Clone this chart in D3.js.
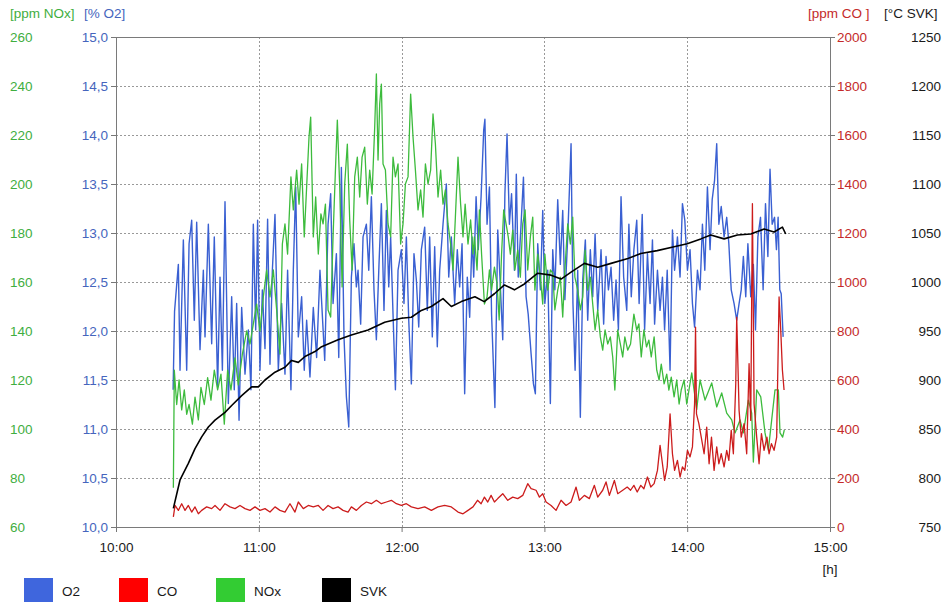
<!DOCTYPE html>
<html>
<head>
<meta charset="utf-8">
<script src="https://cdnjs.cloudflare.com/ajax/libs/d3/7.8.5/d3.min.js"></script>
<style>
  body { margin: 0; background: #fff; }
  svg { display: block; font-family: Arial, "Liberation Sans", sans-serif; }
</style>
</head>
<body>
<svg id="chart"></svg>
<script>
const CHART_SIZE = { width: 943, height: 602 };
const PLOT = { left: 116, right: 830, top: 37, bottom: 527 };
const FONT_SIZE = 13.5;

// tick labels
const timeTicks = ["10:00", "11:00", "12:00", "13:00", "14:00", "15:00"];
const noxTicks = [60, 80, 100, 120, 140, 160, 180, 200, 220, 240, 260];
const o2Ticks = [10, 10.5, 11, 11.5, 12, 12.5, 13, 13.5, 14, 14.5, 15];
const coTicks = [0, 200, 400, 600, 800, 1000, 1200, 1400, 1600, 1800, 2000];
const svkTicks = [750, 800, 850, 900, 950, 1000, 1050, 1100, 1150, 1200, 1250];

const seriesNames = ["O2", "CO", "NOx", "SVK"];
const legendColors = ["#3f66dd", "#ff0000", "#33cc33", "#000000"];

// [minutes after 10:00, value]
const o2Data = [
  [24.0, 11.4], [24.6, 12.2], [26.2, 12.68], [26.9, 11.6], [28.3, 12.93], [29.7, 11.6],
  [30.7, 12.89], [31.8, 13.13], [32.9, 12.11], [33.9, 13.11], [35.3, 11.81], [36.7, 12.62],
  [37.4, 11.94], [38.8, 13.09], [40.2, 11.87], [41.3, 12.96], [42.7, 11.43], [43.7, 12.55],
  [44.7, 11.6], [45.8, 13.32], [47.2, 11.26], [48.6, 12.35], [49.7, 11.4], [50.7, 12.28],
  [51.7, 11.09], [52.8, 12.24], [54.2, 11.56], [55.6, 12.01], [56.7, 11.4], [57.7, 13.09],
  [58.7, 12.01], [59.5, 13.13], [60.5, 11.6], [61.5, 12.42], [62.6, 11.82], [63.7, 13.14],
  [64.7, 11.66], [65.7, 12.62], [66.8, 13.19], [68.2, 11.6], [69.6, 12.28], [71.0, 11.56],
  [72.1, 12.62], [73.5, 11.4], [74.5, 12.62], [75.5, 13.47], [76.6, 11.94], [78.0, 12.35],
  [79.1, 11.6], [80.1, 12.11], [81.5, 11.53], [82.9, 12.24], [84.3, 11.73], [85.7, 12.62],
  [87.7, 11.7], [89.1, 13.09], [90.2, 13.4], [91.2, 12.28], [92.6, 12.79], [93.6, 11.73],
  [94.7, 13.67], [95.8, 11.94], [96.8, 11.33], [97.8, 11.02], [98.9, 12.55], [100.0, 12.89],
  [101.0, 12.45], [101.7, 12.62], [102.8, 12.07], [103.8, 12.96], [105.2, 13.09], [106.2, 12.62],
  [107.3, 13.37], [108.4, 12.42], [109.4, 11.91], [110.5, 12.68], [111.5, 13.3], [112.6, 12.21],
  [113.6, 13.23], [114.6, 12.45], [115.4, 12.96], [116.4, 12.17], [117.4, 11.4], [118.5, 12.62],
  [119.9, 12.83], [121.0, 12.28], [122.0, 12.96], [123.0, 12.11], [124.1, 11.46], [125.2, 12.79],
  [126.2, 12.52], [127.2, 12.04], [128.3, 12.83], [129.7, 13.06], [130.8, 12.21], [131.8, 12.96],
  [132.9, 11.94], [133.9, 12.86], [135.0, 11.84], [136.0, 12.62], [137.4, 13.09], [138.8, 13.5],
  [139.8, 12.55], [140.9, 12.96], [142.3, 12.28], [143.4, 12.83], [144.4, 12.45], [145.4, 12.89],
  [146.5, 11.36], [147.6, 12.55], [148.6, 12.14], [149.6, 12.96], [150.3, 12.55], [151.3, 13.37],
  [152.2, 12.83], [153.4, 13.37], [154.5, 14.05], [155.0, 14.16], [155.9, 13.09], [156.9, 13.47],
  [157.8, 12.17], [159.2, 11.22], [160.4, 13.03], [161.5, 12.45], [162.5, 11.91], [163.4, 13.4],
  [164.3, 14.01], [165.3, 13.09], [166.2, 13.4], [167.4, 12.62], [168.2, 13.6], [169.0, 12.55],
  [170.2, 13.09], [171.2, 13.57], [172.3, 12.35], [173.2, 12.17], [174.4, 11.77], [175.4, 11.46],
  [176.2, 11.36], [177.2, 12.89], [178.3, 12.42], [179.3, 13.23], [180.2, 12.28], [181.4, 12.62],
  [182.5, 11.26], [183.5, 12.83], [184.4, 12.42], [185.6, 13.34], [186.7, 12.68], [187.7, 13.23],
  [188.6, 12.32], [189.8, 12.96], [191.2, 13.91], [192.0, 12.28], [192.9, 11.6], [194.0, 12.62],
  [195.1, 11.12], [196.1, 12.52], [197.2, 12.93], [198.2, 12.11], [199.3, 12.83], [200.3, 12.35],
  [201.3, 12.99], [202.4, 12.21], [203.8, 12.83], [204.9, 12.07], [205.9, 12.76], [206.9, 12.42],
  [208.0, 12.65], [209.1, 12.11], [210.1, 12.52], [211.1, 12.01], [212.2, 13.37], [213.3, 12.55],
  [214.6, 12.21], [215.5, 13.09], [216.5, 12.35], [217.6, 12.83], [218.8, 13.13], [219.8, 12.28],
  [221.1, 13.19], [222.1, 12.01], [223.3, 12.79], [224.4, 12.28], [225.4, 12.93], [226.3, 12.07],
  [227.5, 12.62], [228.6, 12.21], [229.6, 12.55], [230.5, 12.01], [231.6, 12.62], [232.8, 11.6],
  [233.8, 13.03], [234.7, 12.62], [235.9, 12.96], [237.0, 12.55], [238.0, 13.3], [239.0, 13.13],
  [240.1, 12.62], [241.2, 12.83], [242.2, 12.28], [243.1, 12.04], [244.3, 12.62], [245.4, 12.42],
  [246.4, 13.09], [247.4, 12.62], [248.5, 13.47], [249.6, 12.83], [250.5, 13.34], [251.5, 13.54],
  [252.4, 13.91], [253.3, 13.09], [254.3, 13.27], [255.5, 12.96], [256.6, 13.16], [257.5, 12.89],
  [258.5, 12.42], [259.7, 12.28], [260.8, 12.11], [261.8, 12.28], [262.7, 12.42], [263.6, 12.76],
  [264.6, 12.35], [265.5, 12.89], [266.7, 12.35], [267.8, 12.68], [268.7, 12.01], [269.7, 12.96],
  [270.8, 13.16], [271.9, 12.42], [272.9, 13.3], [273.9, 12.76], [274.8, 13.65], [275.7, 13.09],
  [276.7, 13.16], [277.5, 12.83], [278.2, 13.16], [278.9, 12.42], [279.5, 12.38], [280.3, 11.94]
];

const noxData = [
  [24.1, 76], [24.5, 124], [25.5, 110], [26.5, 120], [27.6, 107.8], [28.7, 116], [29.7, 106],
  [30.7, 110], [32.1, 102], [33.2, 113], [34.6, 103.7], [35.7, 117], [37.1, 110], [38.5, 121],
  [39.9, 111.8], [41.3, 124], [42.7, 116], [44.1, 122.4], [45.5, 102], [46.9, 124], [48.3, 116],
  [50.0, 129], [51.4, 118], [53.1, 130.6], [54.9, 140], [56.3, 134.7], [57.7, 142.9], [59.1, 151],
  [60.5, 140], [61.9, 153.9], [63.3, 164.9], [64.7, 153.9], [66.1, 164.9], [67.5, 148.6],
  [68.9, 130.6], [69.9, 175.5], [71.0, 183.7], [72.1, 171.4], [73.5, 202.9], [74.5, 189.4],
  [75.9, 205.7], [76.9, 191.8], [78.0, 208.2], [79.1, 178.4], [80.1, 198.8], [81.1, 219.2],
  [81.8, 227.3], [82.9, 178.4], [83.9, 194.7], [85.0, 171.4], [86.1, 187.8], [87.0, 183.7],
  [88.0, 191.8], [89.1, 148.6], [90.2, 145.7], [91.2, 178.4], [92.2, 205.7], [93.0, 226.1],
  [94.0, 198.8], [95.0, 158], [96.1, 200], [97.2, 216.3], [98.2, 185.3], [99.2, 164.9],
  [100.3, 202.9], [101.4, 211], [102.4, 194.7], [103.4, 211], [104.5, 215], [105.6, 191.8],
  [106.6, 205.7], [107.6, 195.9], [108.7, 223.3], [109.4, 244.9], [110.1, 209.8], [110.8, 232.7],
  [111.5, 240.8], [112.2, 208.2], [113.2, 205.7], [114.3, 183.7], [115.4, 178.4], [116.4, 211],
  [117.4, 202.9], [118.5, 208.2], [119.6, 175.5], [120.6, 183.7], [121.6, 200], [122.7, 202.9],
  [123.8, 236.7], [124.8, 219.2], [125.8, 205.7], [126.9, 189.4], [128.0, 197.6], [129.0, 186.5],
  [130.0, 208.2], [131.1, 200], [132.2, 205.7], [133.2, 228.6], [134.2, 216.3], [135.3, 194.7],
  [136.4, 205.7], [137.4, 191.8], [138.4, 197.6], [139.5, 183.7], [140.6, 175.5], [141.6, 164.9],
  [142.6, 186.5], [143.7, 211], [144.8, 191.8], [145.8, 178.4], [146.7, 191.8], [147.9, 175.5],
  [149.0, 185.3], [150.0, 171.4], [150.6, 178.4], [151.7, 164.9], [152.7, 189.4], [153.6, 171.4],
  [154.8, 151], [155.9, 153.9], [156.9, 164.9], [157.8, 156.7], [159.0, 166.1], [160.1, 159.2],
  [161.0, 144.5], [162.0, 171.4], [162.9, 189.4], [163.9, 183.7], [164.8, 178.4], [165.7, 171.4],
  [166.7, 181.2], [167.6, 164.9], [168.8, 173], [169.9, 162], [170.9, 183.7], [171.9, 189.4],
  [173.0, 164.9], [174.1, 178.4], [175.1, 186.5], [176.0, 156.7], [177.2, 171.4], [178.3, 162],
  [179.3, 151], [180.2, 171.4], [181.4, 156.7], [182.5, 164.9], [183.5, 163.7], [184.4, 148.6],
  [185.6, 156.7], [186.7, 162], [187.7, 145.7], [188.6, 164.9], [189.8, 183.7], [190.9, 175.5],
  [191.9, 186.5], [192.8, 162], [194.0, 156.7], [195.1, 148.6], [196.1, 153.9], [197.1, 173],
  [198.2, 156.7], [199.3, 162], [200.3, 151], [201.3, 140.4], [202.4, 148.6], [203.5, 137.6],
  [204.5, 132.2], [205.5, 140.4], [206.6, 134.7], [207.7, 137.6], [208.7, 129.4], [209.6, 115.9],
  [210.8, 140.4], [211.9, 134.7], [212.9, 129.4], [213.8, 137.6], [215.0, 132.2], [216.2, 134.7],
  [217.6, 146.9], [218.8, 140.4], [219.7, 142.9], [220.7, 129.4], [221.8, 140.4], [222.9, 133.5],
  [223.9, 136.3], [224.9, 129.4], [226.1, 137.6], [227.2, 124], [228.2, 120], [229.1, 126.5],
  [230.3, 118.4], [231.4, 122.4], [232.3, 115.9], [233.3, 121.2], [234.5, 113.1], [235.6, 120],
  [236.6, 110.2], [237.5, 116], [238.7, 120], [239.8, 110.2], [241.9, 122.9], [244.0, 108],
  [245.4, 120], [247.5, 111.8], [250.3, 118.8], [252.4, 109], [254.5, 114.7], [256.6, 106.5],
  [258.7, 103.7], [260.1, 98.4], [262.2, 103.7], [263.6, 98.4], [265.7, 111.8], [267.1, 106.5],
  [267.8, 86.5], [269.2, 116], [270.9, 113.1], [272.7, 98.4], [274.1, 91.4], [275.5, 103.7],
  [276.9, 116], [278.3, 116], [279.0, 98.4], [280.1, 96.7], [280.8, 99.6]
];

const coData = [
  [24.1, 41], [24.8, 88], [26.2, 68], [27.6, 95], [29.0, 68], [30.4, 88], [31.8, 61], [33.2, 82],
  [34.6, 54], [36.0, 68], [38.1, 82], [40.2, 75], [41.6, 88], [43.7, 68], [45.8, 95], [47.9, 82],
  [50.0, 75], [52.1, 88], [54.2, 75], [56.3, 68], [58.4, 82], [60.5, 68], [62.6, 75], [64.7, 61],
  [66.8, 82], [68.9, 68], [71.0, 61], [73.1, 95], [75.2, 61], [76.6, 102], [78.7, 75], [80.8, 88],
  [82.9, 82], [85.0, 88], [87.0, 68], [89.1, 88], [91.2, 75], [93.3, 82], [95.4, 68], [97.5, 61],
  [98.9, 82], [101.0, 68], [103.1, 88], [105.2, 102], [107.3, 95], [109.4, 109], [111.5, 95],
  [113.6, 102], [115.7, 109], [117.8, 95], [119.9, 88], [122.0, 95], [124.1, 82], [126.9, 75],
  [129.7, 82], [132.5, 68], [135.3, 82], [138.1, 88], [140.9, 82], [143.7, 61], [145.8, 54],
  [147.9, 68], [150.0, 82], [151.9, 109], [153.4, 95], [154.8, 122], [156.2, 102], [157.6, 129],
  [159.0, 102], [160.4, 116], [162.5, 136], [164.6, 109], [166.7, 122], [168.8, 116], [170.9, 129],
  [173.0, 177], [174.4, 157], [176.5, 150], [177.9, 122], [179.3, 136], [180.7, 102], [182.8, 88],
  [184.9, 68], [187.0, 109], [189.1, 88], [191.2, 102], [193.3, 163], [194.7, 109], [196.8, 129],
  [198.9, 116], [201.0, 170], [202.4, 122], [204.5, 150], [205.9, 184], [207.3, 129], [209.4, 190],
  [210.8, 136], [212.9, 150], [214.8, 163], [216.2, 150], [217.6, 170], [219.0, 143], [220.5, 170],
  [221.8, 156], [223.3, 204], [224.7, 163], [226.1, 177], [227.5, 231], [228.6, 333], [229.6, 258],
  [230.5, 190], [231.6, 245], [232.8, 462], [233.8, 299], [234.7, 231], [235.9, 272], [237.0, 204],
  [238.0, 245], [239.0, 231], [240.1, 313], [241.2, 286], [242.2, 327], [243.1, 503], [243.5, 816],
  [243.9, 462], [244.9, 422], [245.9, 367], [247.1, 299], [248.2, 408], [249.2, 258], [250.2, 367],
  [251.3, 231], [252.4, 327], [253.3, 258], [254.3, 299], [255.5, 245], [256.6, 313], [257.5, 272],
  [258.5, 395], [259.4, 299], [260.4, 585], [260.8, 857], [261.8, 476], [262.7, 367], [263.9, 422],
  [265.0, 299], [266.0, 667], [266.7, 435], [267.4, 1320], [268.1, 503], [269.2, 367], [270.2, 258],
  [271.2, 381], [272.3, 313], [273.5, 367], [274.4, 299], [275.4, 340], [276.5, 313], [277.6, 367],
  [278.6, 939], [279.3, 804], [280.0, 641], [280.7, 559]
];

const svkData = [
  [24.1, 769], [26.9, 798], [30.4, 815], [33.2, 830], [36.0, 842], [38.8, 852], [41.6, 859],
  [45.8, 867], [48.6, 874], [52.8, 884], [57.0, 893], [59.8, 893], [62.6, 900], [66.8, 908],
  [71.0, 913], [73.8, 920], [76.6, 918], [79.4, 924], [83.6, 929], [86.4, 934], [93.3, 941],
  [98.9, 946], [105.9, 951], [112.9, 959], [119.9, 963], [124.1, 964], [128.3, 971], [132.5, 975],
  [137.4, 983], [140.9, 975], [145.1, 980], [150.8, 985], [154.7, 980], [159.0, 988], [163.2, 997],
  [167.4, 992], [171.6, 998], [177.2, 1009], [182.8, 1007], [187.0, 1003], [191.2, 1010],
  [196.8, 1019], [202.4, 1015], [208.0, 1019], [215.1, 1024], [220.5, 1029], [227.4, 1032],
  [234.5, 1036], [240.0, 1039], [245.7, 1044], [249.9, 1048], [255.5, 1044], [261.1, 1048],
  [266.7, 1049], [272.3, 1054], [276.5, 1051], [280.0, 1056], [281.4, 1049]
];

const parseTime = d3.timeParse("%H:%M");
const startTime = parseTime(timeTicks[0]);
const atMinute = m => new Date(startTime.getTime() + m * 60000);
const commaFormat = d => d3.format(".1f")(d).replace(".", ",");

const x = d3
  .scaleTime()
  .domain([startTime, parseTime(timeTicks[timeTicks.length - 1])])
  .range([PLOT.left, PLOT.right]);
const yO2 = d3.scaleLinear().domain([10, 15]).range([PLOT.bottom, PLOT.top]);
const yNox = d3.scaleLinear().domain([60, 260]).range([PLOT.bottom, PLOT.top]);
const yCo = d3.scaleLinear().domain([0, 2000]).range([PLOT.bottom, PLOT.top]);
const ySvk = d3.scaleLinear().domain([750, 1250]).range([PLOT.bottom, PLOT.top]);

const svg = d3
  .select("#chart")
  .attr("width", CHART_SIZE.width)
  .attr("height", CHART_SIZE.height);

const styleAxis = function(g, color) {
  g.select(".domain").remove();
  g.attr("font-size", FONT_SIZE).attr("font-family", "Arial, 'Liberation Sans', sans-serif");
  g.selectAll(".tick line").attr("stroke", "#777");
  g.selectAll(".tick text").attr("fill", color);
};

const drawGrid = function() {
  const grid = svg.append("g").attr("class", "grid");
  grid
    .selectAll(".h")
    .data(o2Ticks.slice(1, -1))
    .enter()
    .append("line")
    .attr("x1", PLOT.left)
    .attr("x2", PLOT.right)
    .attr("y1", d => yO2(d) + 0.5)
    .attr("y2", d => yO2(d) + 0.5);
  grid
    .selectAll(".v")
    .data(timeTicks.slice(1, -1).map(parseTime))
    .enter()
    .append("line")
    .attr("x1", d => Math.round(x(d)) + 0.5)
    .attr("x2", d => Math.round(x(d)) + 0.5)
    .attr("y1", PLOT.top)
    .attr("y2", PLOT.bottom);
  grid
    .selectAll("line")
    .attr("stroke", "#999")
    .attr("stroke-width", 1)
    .attr("stroke-dasharray", "2,2");
};

const drawAxes = function() {
  svg
    .append("g")
    .attr("transform", `translate(${PLOT.left},0)`)
    .call(d3.axisLeft(yO2).tickValues(o2Ticks).tickFormat(commaFormat).tickSize(5).tickPadding(3))
    .call(g => styleAxis(g, "#4565bd"));

  svg
    .append("g")
    .attr("transform", "translate(10,0)")
    .call(d3.axisRight(yNox).tickValues(noxTicks).tickSize(0).tickPadding(0))
    .call(g => styleAxis(g, "#3fae3f"));

  svg
    .append("g")
    .attr("transform", `translate(${PLOT.right},0)`)
    .call(d3.axisRight(yCo).tickValues(coTicks).tickFormat(d3.format("d")).tickSize(5).tickPadding(2))
    .call(g => styleAxis(g, "#c42a2a"));

  // right-most scale sits on the page edge
  svg
    .append("g")
    .attr("transform", "translate(941,0)")
    .call(d3.axisLeft(ySvk).tickValues(svkTicks).tickFormat(d3.format("d")).tickSize(0).tickPadding(0))
    .call(g => styleAxis(g, "#1a1a1a"));

  svg
    .append("g")
    .attr("transform", `translate(0,${PLOT.bottom})`)
    .call(
      d3
        .axisBottom(x)
        .tickValues(timeTicks.map(parseTime))
        .tickFormat(d3.timeFormat("%H:%M"))
        .tickSize(5)
        .tickPadding(10)
    )
    .call(g => styleAxis(g, "#1a1a1a"));

  const labels = [
    ["[ppm NOx]", 10, "#3fae3f"],
    ["[% O2]", 84, "#4565bd"],
    ["[ppm CO ]", 808, "#c42a2a"],
    ["[°C SVK]", 884, "#1a1a1a"]
  ];
  svg
    .selectAll(".unit")
    .data(labels)
    .enter()
    .append("text")
    .attr("class", "unit")
    .attr("x", d => d[1])
    .attr("y", 18)
    .attr("fill", d => d[2])
    .attr("font-size", FONT_SIZE)
    .text(d => d[0]);

  svg
    .append("text")
    .attr("x", PLOT.right)
    .attr("y", 574)
    .attr("text-anchor", "middle")
    .attr("font-size", FONT_SIZE)
    .attr("fill", "#1a1a1a")
    .text("[h]");
};

const drawSeries = function(data, yScale, color, width) {
  const line = d3
    .line()
    .x(d => x(atMinute(d[0])))
    .y(d => yScale(d[1]));
  svg
    .append("path")
    .datum(data)
    .attr("d", line)
    .attr("fill", "none")
    .attr("stroke", color)
    .attr("stroke-width", width)
    .attr("stroke-linejoin", "round");
};

const drawLegend = function() {
  const LEGEND_X = [24, 119, 216, 322];
  const items = svg
    .selectAll(".legend")
    .data(seriesNames)
    .enter()
    .append("g")
    .attr("class", "legend")
    .attr("transform", (d, i) => `translate(${LEGEND_X[i]},578)`);
  items
    .append("rect")
    .attr("width", 29)
    .attr("height", 26)
    .attr("fill", (d, i) => legendColors[i]);
  items
    .append("text")
    .attr("x", 38)
    .attr("y", 18)
    .attr("font-size", FONT_SIZE)
    .attr("fill", "#1a1a1a")
    .text(d => d);
};

const main = function() {
  drawGrid();
  drawSeries(o2Data, yO2, "#3a60d2", 1.4);
  drawSeries(noxData, yNox, "#3dbb3d", 1.3);
  drawSeries(coData, yCo, "#cc1c1c", 1.3);
  drawSeries(svkData, ySvk, "#000", 1.6);
  svg
    .append("rect")
    .attr("x", PLOT.left + 0.5)
    .attr("y", PLOT.top + 0.5)
    .attr("width", PLOT.right - PLOT.left)
    .attr("height", PLOT.bottom - PLOT.top)
    .attr("fill", "none")
    .attr("stroke", "#7a7a7a");
  drawAxes();
  drawLegend();
};

main();
</script>
</body>
</html>
